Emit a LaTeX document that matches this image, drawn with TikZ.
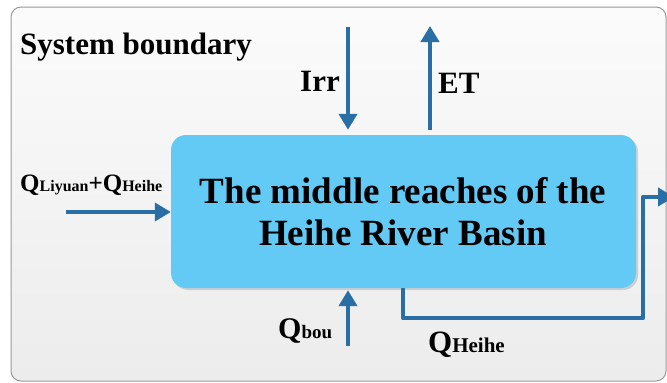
\documentclass[tikz,border=0pt]{standalone}
\usepackage{fontspec}
\setmainfont{Liberation Serif}
\usetikzlibrary{arrows.meta,shadows}
\definecolor{flow}{HTML}{2A6EA6}
\definecolor{boxfill}{HTML}{62CAF4}
\definecolor{bgtop}{HTML}{FBFBFB}
\definecolor{bgbot}{HTML}{ECECEC}
\definecolor{bordergray}{HTML}{9A9A9A}
\tikzset{
  flowarrow/.style={draw=flow, line width=4.5pt, -{Triangle[width=18pt,length=16pt]}},
  lbl/.style={font=\bfseries\fontsize{31}{36}\selectfont, inner sep=0pt},
  main/.style={font=\bfseries\fontsize{37}{42}\selectfont, inner sep=0pt},
  basin/.style={fill=boxfill, rounded corners=15pt, minimum width=465pt, minimum height=153pt, inner sep=0pt,
    drop shadow={shadow xshift=2pt, shadow yshift=-2pt, opacity=0.25, fill=black!60}},
}
\newcommand{\bigQ}[2]{{\fontsize{#1}{#1}\selectfont Q}}
\begin{document}
\begin{tikzpicture}[x=1pt,y=-1pt]
\useasboundingbox (0,0) rectangle (667,383);
\fill[white] (0,0) rectangle (667,383);
\shade[top color=bgtop, bottom color=bgbot, draw=bordergray, line width=1pt, rounded corners=10pt]
  (11,7) rectangle (666,381);
\node[lbl, anchor=base west] (sysb) at (20,54) {System boundary};
\node[basin] (box) at (403.5,211.5) {};
\node[main, anchor=base] (t1) at (403,203) {The middle reaches of the};
\node[main, anchor=base] (t2) at (403,245) {Heihe River Basin};
% Irr
\coordinate (irrtop) at (348,27);
\draw[flowarrow, shorten >=5pt] (irrtop) -- (irrtop |- box.north);
\node[lbl, anchor=base east] (irr) at (340,91) {Irr};
% ET
\coordinate (ettop) at (430,26);
\draw[flowarrow, shorten <=5pt] (ettop |- box.north) -- (ettop);
\node[lbl, anchor=base west] (et) at (438,93) {ET};
% inflow left
\coordinate (inl) at (66,212);
\draw[flowarrow] (inl) -- (box.west |- inl);
\node[anchor=base west, inner sep=0pt, font=\bfseries] (qin) at (20,191)
  {{\fontsize{25}{25}\selectfont Q}{\fontsize{16}{16}\selectfont Liyuan}{\fontsize{25}{25}\selectfont +Q}{\fontsize{16}{16}\selectfont Heihe}};
% Qbou
\coordinate (qb) at (348,346);
\draw[flowarrow, shorten >=2pt] (qb) -- (qb |- box.south);
\node[anchor=base west, inner sep=0pt, font=\bfseries] (qbou) at (278,338)
  {{\fontsize{30}{30}\selectfont Q}{\fontsize{19}{19}\selectfont bou}};
% outflow
\coordinate (outs) at (403,288);
\coordinate (outend) at (674,197);
\draw[flowarrow, line join=round] (outs) -- (403,318) -- (643,318) -- (643,197) -- (outend);
\node[anchor=base west, inner sep=0pt, font=\bfseries] (qh) at (428,352)
  {{\fontsize{31}{31}\selectfont Q}{\fontsize{21}{21}\selectfont Heihe}};
\end{tikzpicture}
\end{document}
